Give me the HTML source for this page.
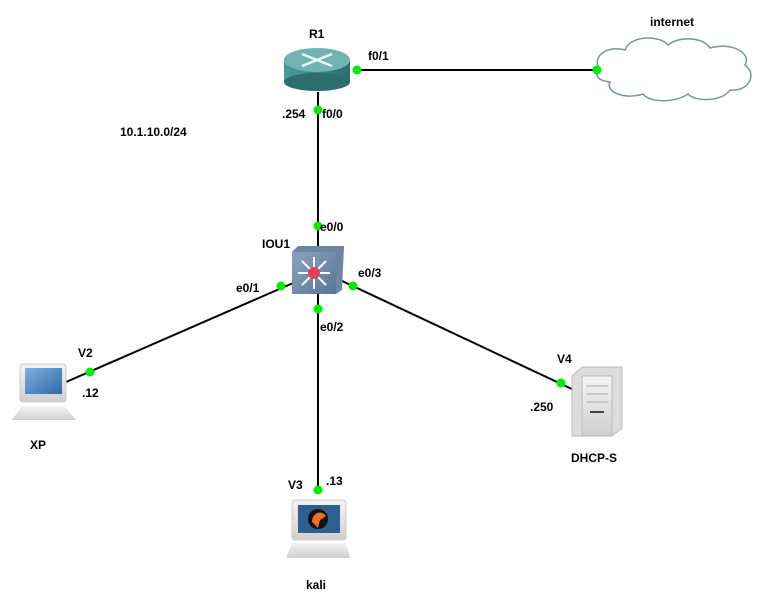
<!DOCTYPE html>
<html><head><meta charset="utf-8"><style>
html,body{margin:0;padding:0;background:#fff;}
svg text{font-family:"Liberation Sans",sans-serif;font-size:12px;font-weight:bold;fill:#000;}
</style></head><body>
<svg width="763" height="608" viewBox="0 0 763 608" xmlns="http://www.w3.org/2000/svg">
<defs>
<linearGradient id="rt" x1="0" y1="0" x2="1" y2="0"><stop offset="0" stop-color="#4f9a9a"/><stop offset="0.5" stop-color="#3b8585"/><stop offset="1" stop-color="#2c6e6e"/></linearGradient>
<linearGradient id="sw" x1="0" y1="0" x2="1" y2="1"><stop offset="0" stop-color="#8aa3bf"/><stop offset="1" stop-color="#5a7594"/></linearGradient>
<linearGradient id="scr" x1="0" y1="0" x2="1" y2="1"><stop offset="0" stop-color="#7fb0df"/><stop offset="1" stop-color="#2f69a8"/></linearGradient>
<linearGradient id="gr" x1="0" y1="0" x2="0" y2="1"><stop offset="0" stop-color="#f4f4f4"/><stop offset="1" stop-color="#cfcfcf"/></linearGradient>
</defs>
<g stroke="#000" stroke-width="2">
<line x1="357" y1="70" x2="597" y2="70"/>
<line x1="318" y1="92" x2="318" y2="250"/>
<line x1="318" y1="290" x2="318" y2="492"/>
<line x1="300" y1="280" x2="66" y2="382"/>
<line x1="340" y1="280" x2="574" y2="390"/>
</g>
<!-- cloud -->
<path d="M600,70 C590,55 610,45 625,50 C630,35 660,35 668,45 C680,35 705,38 710,48 C730,42 752,52 745,65 C758,75 748,92 730,90 C722,102 695,102 688,94 C675,103 650,103 643,94 C625,100 605,92 610,82 C595,80 595,74 600,70 Z" fill="#fff" stroke="#6f9a9a" stroke-width="1.5"/>
<!-- router -->
<rect x="284" y="60" width="66" height="22" fill="url(#rt)"/>
<ellipse cx="317" cy="82" rx="33" ry="9" fill="#2c6e6e"/>
<ellipse cx="317" cy="60" rx="33" ry="12" fill="#6fb3b3"/>
<g stroke="#fff" stroke-width="2.5" opacity="0.9"><line x1="302" y1="54" x2="332" y2="66"/><line x1="332" y1="54" x2="302" y2="66"/></g>
<!-- switch -->
<polygon points="292,252 298,246 344,246 342,290 336,294 292,294" fill="#6d86a3"/>
<rect x="292" y="252" width="44" height="42" fill="url(#sw)"/>
<g stroke="#fff" stroke-width="2"><line x1="298" y1="273" x2="330" y2="273"/><line x1="314" y1="257" x2="314" y2="289"/><line x1="302" y1="261" x2="326" y2="285"/><line x1="326" y1="261" x2="302" y2="285"/></g>
<circle cx="314" cy="273" r="6" fill="#e0405a"/>
<!-- XP -->
<rect x="20" y="364" width="46" height="38" rx="3" fill="url(#gr)" stroke="#ccc"/>
<rect x="25" y="368" width="37" height="26" fill="url(#scr)"/>
<polygon points="22,406 64,406 76,420 12,420" fill="url(#gr)"/>
<!-- kali -->
<rect x="292" y="500" width="54" height="40" rx="3" fill="url(#gr)" stroke="#ccc"/>
<rect x="298" y="505" width="42" height="28" fill="#2f5f90"/>
<circle cx="318" cy="519" r="10" fill="#111"/><path d="M312,522 C312,512 322,510 326,516 L320,520 L318,528 Z" fill="#f07020"/>
<polygon points="292,543 346,543 350,558 286,558" fill="url(#gr)"/>
<!-- server -->
<polygon points="572,376 582,367 622,367 622,428 612,436 572,436" fill="#dcdcdc" stroke="#bbb"/>
<rect x="582" y="376" width="30" height="60" fill="url(#gr)" stroke="#bbb"/>
<g stroke="#aaa"><line x1="586" y1="386" x2="608" y2="386"/><line x1="586" y1="394" x2="608" y2="394"/><line x1="586" y1="402" x2="608" y2="402"/><line x1="590" y1="412" x2="604" y2="412" stroke="#444" stroke-width="2"/></g>
<!-- dots -->
<g fill="#00ee00">
<circle cx="357" cy="70" r="4.5"/><circle cx="597" cy="70" r="4.5"/><circle cx="318" cy="110" r="4.5"/>
<circle cx="318" cy="226" r="4.5"/><circle cx="281" cy="286" r="4.5"/><circle cx="318" cy="309" r="4.5"/>
<circle cx="353" cy="286" r="4.5"/><circle cx="90" cy="372" r="4.5"/><circle cx="318" cy="490" r="4.5"/>
<circle cx="561" cy="383" r="4.5"/>
</g>
<text x="309" y="38">R1</text>
<text x="368" y="60">f0/1</text>
<text x="282" y="118">.254</text>
<text x="322" y="118">f0/0</text>
<text x="120" y="136">10.1.10.0/24</text>
<text x="650" y="26">internet</text>
<text x="320" y="231">e0/0</text>
<text x="262" y="248">IOU1</text>
<text x="358" y="277">e0/3</text>
<text x="236" y="292">e0/1</text>
<text x="320" y="331">e0/2</text>
<text x="78" y="357">V2</text>
<text x="82" y="397">.12</text>
<text x="30" y="449">XP</text>
<text x="288" y="489">V3</text>
<text x="326" y="485">.13</text>
<text x="306" y="589">kali</text>
<text x="557" y="363">V4</text>
<text x="530" y="411">.250</text>
<text x="571" y="462">DHCP-S</text>
</svg>
</body></html>
